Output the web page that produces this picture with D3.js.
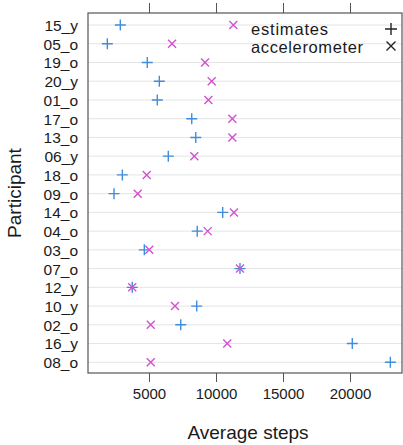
<!DOCTYPE html>
<html><head><meta charset="utf-8">
<script src="https://cdn.jsdelivr.net/npm/d3@7"></script>
<style>body{margin:0;background:#fff}svg{display:block}text{font-family:"Liberation Sans",Arial,sans-serif;fill:#1a1a1a}</style>
</head><body><svg id="c" width="403" height="445"></svg>
<script>
const participants = ["15_y","05_o","19_o","20_y","01_o","17_o","13_o","06_y","18_o","09_o","14_o","04_o","03_o","07_o","12_y","10_y","02_o","16_y","08_o"];
const estimates = [2860,1890,4870,5770,5620,8190,8490,6440,3010,2390,10500,8600,4650,11790,3750,8560,7370,20170,23010];
const accelerometer = [11290,6720,9180,9680,9430,11220,11220,8380,4830,4160,11340,9380,5020,11790,3750,6940,5130,10840,5130];
const xTicks = [5000,10000,15000,20000];
const seriesNames = ["estimates","accelerometer"];
const colors = ["#3f8ddc","#d152cf"];

const svg = d3.select("#c");
const L=88,T=13,R=402,B=373;
const x = d3.scaleLinear().domain([448,23880]).range([L,R]);
const y = d3.scalePoint().domain(participants).range([25,362.3]);

// gridlines
svg.append("g").selectAll("line").data(participants).join("line")
  .attr("x1",L).attr("x2",R).attr("y1",d=>y(d)).attr("y2",d=>y(d))
  .attr("stroke","#e4e4e4").attr("stroke-width",1);

// axes
const axB = svg.append("g").attr("transform",`translate(0,${B})`)
  .call(d3.axisBottom(x).tickValues(xTicks).tickSize(9).tickPadding(6).tickFormat(d3.format("d")));
const axT = svg.append("g").attr("transform",`translate(0,${T})`)
  .call(d3.axisTop(x).tickValues(xTicks).tickSize(10).tickFormat(""));
const axL = svg.append("g").attr("transform",`translate(${L},0)`)
  .call(d3.axisLeft(y).tickSize(0).tickPadding(10));
[axB,axT,axL].forEach(g=>{g.select(".domain").remove();g.selectAll("line").attr("stroke","#555");});
axB.selectAll("text").attr("font-size",15).style("font-family","Liberation Sans, Arial, sans-serif").attr("fill","#1a1a1a");
axL.selectAll("text").attr("font-size",15.5).style("font-family","Liberation Sans, Arial, sans-serif").attr("fill","#1a1a1a").attr("dy","0.35em");

svg.append("rect").attr("x",L).attr("y",T).attr("width",R-L).attr("height",B-T)
  .attr("fill","none").attr("stroke","#555").attr("stroke-width",1.2);

// symbols
function plus(g,cx,cy,s,col){g.append("path").attr("d",`M${cx-s},${cy}H${cx+s}M${cx},${cy-s}V${cy+s}`).attr("stroke",col).attr("stroke-width",1.4).attr("fill","none");}
function cross(g,cx,cy,s,col){g.append("path").attr("d",`M${cx-s},${cy-s}L${cx+s},${cy+s}M${cx-s},${cy+s}L${cx+s},${cy-s}`).attr("stroke",col).attr("stroke-width",1.4).attr("fill","none");}
const pts = svg.append("g");
participants.forEach((p,i)=>{
  plus(pts,x(estimates[i]),y(p),5.5,colors[0]);
  cross(pts,x(accelerometer[i]),y(p),4,colors[1]);
});

// legend
const lg = svg.append("g");
lg.append("text").attr("x",251).attr("y",29.5).attr("dy","0.35em").attr("font-size",16.5).attr("textLength",77).text(seriesNames[0]);
lg.append("text").attr("x",251).attr("y",47.5).attr("dy","0.35em").attr("font-size",16.5).attr("textLength",112).text(seriesNames[1]);
plus(lg,391,29,6,"#222");
cross(lg,391,46,4.5,"#222");

// titles
svg.append("text").attr("x",(L+R)/2+3).attr("y",432).attr("dy","0.35em").attr("text-anchor","middle").attr("font-size",19).text("Average steps");
svg.append("text").attr("transform",`translate(14,${(T+B)/2}) rotate(-90)`).attr("dy","0.35em").attr("text-anchor","middle").attr("font-size",19).text("Participant");
</script></body></html>
